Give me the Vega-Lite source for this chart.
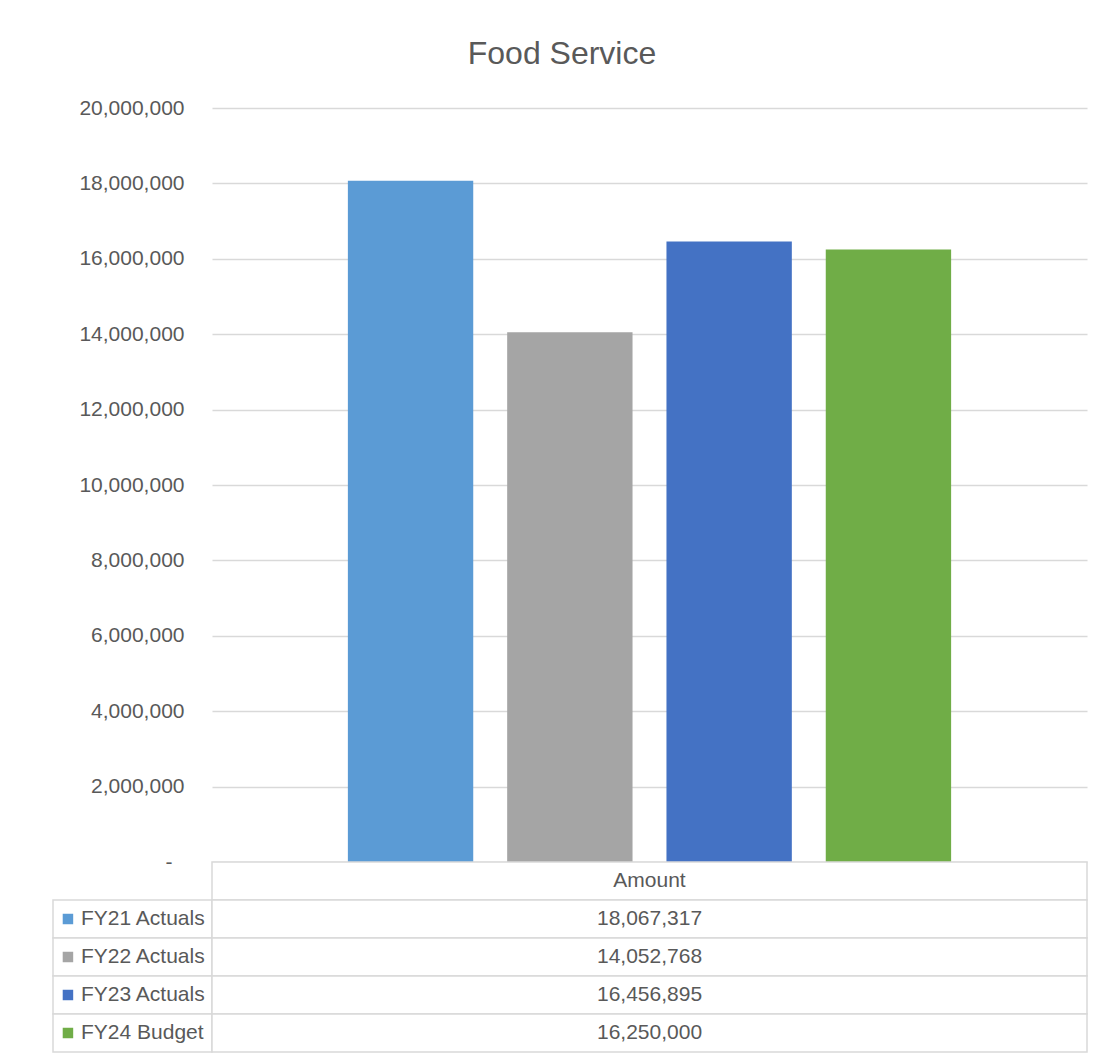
{
  "$schema": "https://vega.github.io/schema/vega-lite/v6.json",
  "background": "white",
  "padding": {"left": 52, "top": 38, "right": 17, "bottom": 8},
  "spacing": 0,
  "columns": 2,
  "bounds": "flush",
  "title": {"text": "Food Service", "anchor": "middle", "fontSize": 32, "font": "Liberation Sans", "fontWeight": "normal", "color": "#595959", "offset": 26, "dx": -8},
  "config": {"view": {"stroke": null}, "font": "Liberation Sans", "concat": {"spacing": 0}},
  "datasets": {
    "t": [
      {"series": "FY21 Actuals", "amount": 18067317},
      {"series": "FY22 Actuals", "amount": 14052768},
      {"series": "FY23 Actuals", "amount": 16456895},
      {"series": "FY24 Budget", "amount": 16250000}
    ],
    "h": [{"series": "hdr", "head": "Amount"}]
  },
  "concat": [
    {
      "width": 159,
      "height": 754,
      "data": {"values": []},
      "mark": {"type": "point", "opacity": 0},
      "encoding": {}
    },
    {
      "width": 875,
      "height": 754,
      "data": {"name": "t"},
      "mark": {"type": "bar"},
      "encoding": {
        "x": {"field": "series", "type": "nominal", "sort": null, "scale": {"paddingInner": 0.213, "paddingOuter": 0.853}, "axis": null},
        "y": {
          "field": "amount", "type": "quantitative",
          "scale": {"domain": [0, 20000000], "nice": false},
          "axis": {
            "values": [0, 2000000, 4000000, 6000000, 8000000, 10000000, 12000000, 14000000, 16000000, 18000000, 20000000],
            "title": null, "ticks": false, "domain": false,
            "labelPadding": {"condition": {"test": "datum.value === 0", "value": 40}, "value": 28},
            "labelFontSize": 21, "labelColor": "#595959", "labelFont": "Liberation Sans",
            "gridColor": "#d9d9d9", "gridWidth": 1.5,
            "labelExpr": "datum.value === 0 ? '-' : format(datum.value, ',')"
          }
        },
        "color": {
          "field": "series", "type": "nominal", "sort": null,
          "scale": {"domain": ["FY21 Actuals", "FY22 Actuals", "FY23 Actuals", "FY24 Budget"], "range": ["#5b9bd5", "#a5a5a5", "#4472c4", "#70ad47"]},
          "legend": null
        }
      }
    },
    {
      "width": 159,
      "height": 190,
      "data": {"name": "t"},
      "encoding": {
        "y": {"field": "series", "type": "nominal", "sort": null, "scale": {"domain": ["hdr", "FY21 Actuals", "FY22 Actuals", "FY23 Actuals", "FY24 Budget"], "paddingInner": 0, "paddingOuter": 0}, "axis": null}
      },
      "layer": [
        {
          "mark": {"type": "rect", "fill": "white", "stroke": "#d9d9d9", "strokeWidth": 1.5},
          "encoding": {"x": {"datum": "label", "type": "nominal", "scale": {"paddingInner": 0, "paddingOuter": 0}, "axis": null}}
        },
        {
          "mark": {"type": "point", "shape": "square", "filled": true, "size": 110, "opacity": 1},
          "encoding": {
            "x": {"datum": "label", "type": "nominal", "bandPosition": 0.094, "scale": {"paddingInner": 0, "paddingOuter": 0}, "axis": null},
            "color": {
              "field": "series", "type": "nominal", "sort": null,
              "scale": {"domain": ["FY21 Actuals", "FY22 Actuals", "FY23 Actuals", "FY24 Budget"], "range": ["#5b9bd5", "#a5a5a5", "#4472c4", "#70ad47"]},
              "legend": null
            }
          }
        },
        {
          "mark": {"type": "text", "align": "left", "baseline": "middle", "fontSize": 21, "color": "#595959", "font": "Liberation Sans"},
          "encoding": {
            "x": {"datum": "label", "type": "nominal", "bandPosition": 0.176, "scale": {"paddingInner": 0, "paddingOuter": 0}, "axis": null},
            "text": {"field": "series"}
          }
        }
      ]
    },
    {
      "width": 875,
      "height": 190,
      "encoding": {
        "y": {"field": "series", "type": "nominal", "sort": null, "scale": {"domain": ["hdr", "FY21 Actuals", "FY22 Actuals", "FY23 Actuals", "FY24 Budget"], "paddingInner": 0, "paddingOuter": 0}, "axis": null},
        "x": {"datum": "Amount", "type": "nominal", "scale": {"paddingInner": 0, "paddingOuter": 0}, "axis": null}
      },
      "layer": [
        {"data": {"name": "h"}, "mark": {"type": "rect", "fill": "white", "stroke": "#d9d9d9", "strokeWidth": 1.5}},
        {"data": {"name": "h"}, "mark": {"type": "text", "baseline": "middle", "fontSize": 21, "color": "#595959", "font": "Liberation Sans"}, "encoding": {"text": {"field": "head"}}},
        {"data": {"name": "t"}, "mark": {"type": "rect", "fill": "white", "stroke": "#d9d9d9", "strokeWidth": 1.5}},
        {"data": {"name": "t"}, "mark": {"type": "text", "baseline": "middle", "fontSize": 21, "color": "#595959", "font": "Liberation Sans"}, "encoding": {"text": {"field": "amount", "type": "quantitative", "format": ","}}}
      ]
    }
  ]
}
